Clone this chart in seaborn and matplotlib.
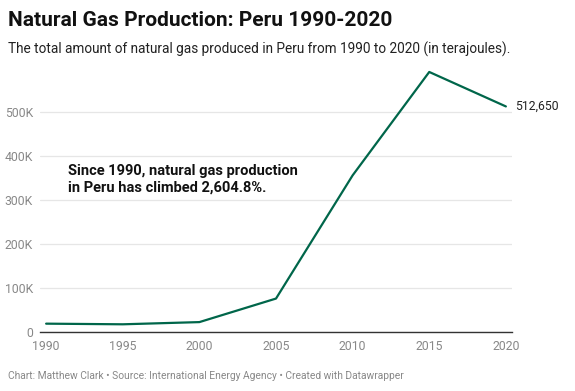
import matplotlib
matplotlib.use("Agg")
import matplotlib.pyplot as plt
import pandas as pd
import seaborn as sns

years = [1990, 1995, 2000, 2005, 2010, 2015, 2020]
production_tj = [18950, 17500, 22500, 76000, 356000, 591000, 512650]
y_ticks = [0, 100000, 200000, 300000, 400000, 500000]
y_tick_labels = ["0", "100K", "200K", "300K", "400K", "500K"]

title = "Natural Gas Production: Peru 1990-2020"
subtitle = "The total amount of natural gas produced in Peru from 1990 to 2020 (in terajoules)."
note = "Since 1990, natural gas production\nin Peru has climbed 2,604.8%."
footer = "Chart: Matthew Clark \u2022 Source: International Energy Agency \u2022 Created with Datawrapper"

df = pd.DataFrame({"year": years, "production": production_tj})

sns.set_style("white")
plt.rcParams["font.family"] = ["Roboto", "DejaVu Sans"]

fig = plt.figure(figsize=(5.75, 3.91), dpi=100)
ax = fig.add_axes([40 / 575, 59 / 391, 472 / 575, 264 / 391])

sns.lineplot(data=df, x="year", y="production", color="#00664a", linewidth=1.6, ax=ax)

ax.set_xlim(1989.6, 2020.4)
ax.set_ylim(0, 600000)
ax.set_xticks(years)
ax.set_xticklabels([str(y) for y in years])
ax.set_yticks(y_ticks)
ax.set_yticklabels(y_tick_labels)
ax.set_xlabel("")
ax.set_ylabel("")
ax.tick_params(axis="both", length=0, labelsize=8.8, colors="#888888")
ax.tick_params(axis="x", pad=6)
ax.tick_params(axis="y", pad=5)
ax.grid(axis="y", color="#e6e6e6", linewidth=0.9)
ax.set_axisbelow(True)
for side in ["top", "right", "left"]:
    ax.spines[side].set_visible(False)
ax.spines["bottom"].set_color("#333333")
ax.spines["bottom"].set_linewidth(1.0)

ax.text(2020.6, production_tj[-1], f"{production_tj[-1]:,}", fontsize=8.8,
        color="#222222", va="center", ha="left", clip_on=False)
ax.text(1991.4, 382000, note, fontsize=10.5, fontweight="bold",
        color="#111111", va="top", ha="left", linespacing=1.25)

fig.text(8 / 575, 1 - 21 / 391, title, fontsize=15, fontweight="bold",
         color="#111111", va="center", ha="left")
fig.text(8 / 575, 1 - 49 / 391, subtitle, fontsize=9.8,
         color="#222222", va="center", ha="left")
fig.text(8 / 575, 1 - 376 / 391, footer, fontsize=7.4,
         color="#888888", va="center", ha="left")

fig.savefig("out.png", dpi=100)
